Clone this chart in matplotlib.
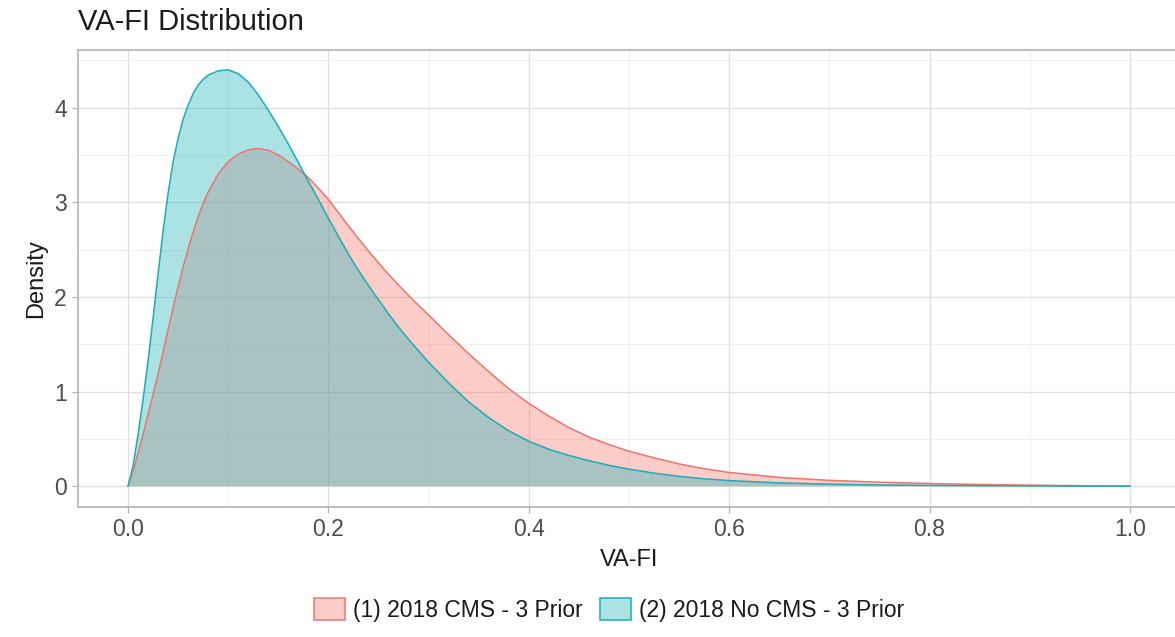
import matplotlib
matplotlib.use("Agg")
import matplotlib.pyplot as plt
from matplotlib.colors import to_rgba
from matplotlib.patches import Patch
from matplotlib.ticker import MultipleLocator

plt.rcParams['font.family'] = ['Liberation Sans', 'DejaVu Sans']

# VA-FI evaluation grid (finer where the curves rise steeply)
va_fi = [
    0.000, 0.005, 0.010, 0.015, 0.020, 0.025, 0.030, 0.035, 0.040, 0.045,
    0.050, 0.055, 0.060, 0.065, 0.070, 0.075, 0.080,
    0.09, 0.10, 0.11, 0.12, 0.13, 0.14, 0.15, 0.16, 0.17, 0.18, 0.19,
    0.20, 0.21, 0.22, 0.23, 0.24, 0.25, 0.26, 0.27, 0.28, 0.29, 0.30,
    0.32, 0.34, 0.36, 0.38, 0.40, 0.42, 0.44, 0.46, 0.48, 0.50,
    0.525, 0.55, 0.575, 0.60, 0.65, 0.70, 0.75, 0.80, 0.85, 0.90, 0.95, 1.00,
]

# (1) 2018 CMS - 3 Prior
density_cms = [
    0.00, 0.16, 0.35, 0.55, 0.76, 0.97, 1.19, 1.42, 1.66, 1.89,
    2.11, 2.32, 2.51, 2.69, 2.85, 2.99, 3.11,
    3.30, 3.43, 3.51, 3.555, 3.57, 3.55, 3.50, 3.43, 3.35, 3.26, 3.15,
    3.03, 2.89, 2.75, 2.615, 2.485, 2.36, 2.24, 2.125, 2.015, 1.91, 1.81,
    1.60, 1.40, 1.21, 1.03, 0.875, 0.74, 0.62, 0.52, 0.44, 0.37,
    0.30, 0.235, 0.185, 0.145, 0.093, 0.062, 0.042, 0.028, 0.018, 0.011, 0.005, 0.001,
]

# (2) 2018 No CMS - 3 Prior
density_nocms = [
    0.00, 0.22, 0.55, 0.92, 1.33, 1.78, 2.25, 2.70, 3.10, 3.43,
    3.68, 3.88, 4.03, 4.15, 4.24, 4.30, 4.345,
    4.39, 4.40, 4.36, 4.27, 4.135, 3.975, 3.80, 3.615, 3.42, 3.22, 3.03,
    2.83, 2.64, 2.45, 2.28, 2.12, 1.97, 1.82, 1.68, 1.55, 1.43, 1.31,
    1.09, 0.89, 0.725, 0.585, 0.475, 0.39, 0.325, 0.27, 0.22, 0.18,
    0.138, 0.104, 0.078, 0.059, 0.035, 0.021, 0.013, 0.008, 0.005, 0.003, 0.0015, 0.0005,
]

series_labels = ["(1) 2018 CMS - 3 Prior", "(2) 2018 No CMS - 3 Prior"]
fill_colors = ["#F8766D", "#1DB5BB"]
line_colors = ["#EC756D", "#1BADB3"]
fill_alpha = [0.37, 0.37]

W, H = 1175, 637
fig = plt.figure(figsize=(W / 100, H / 100), dpi=100)
fig.patch.set_facecolor("white")

# panel box in pixel coordinates (left, top, right, bottom)
pl, pt, pr, pb = 78, 50, 1180, 507
ax = fig.add_axes([pl / W, 1 - pb / H, (pr - pl) / W, (pb - pt) / H])

for dens, fc, lc, a in zip([density_cms, density_nocms], fill_colors, line_colors, fill_alpha):
    ax.fill_between(va_fi, dens, 0, facecolor=fc, alpha=a, lw=0, zorder=2)
    ax.plot(va_fi, dens, color=lc, lw=1.1, zorder=3, solid_joinstyle="round")

ax.set_xlim(-0.05, 1.05)
ax.set_ylim(-0.22, 4.61)

ax.xaxis.set_minor_locator(MultipleLocator(0.1))
ax.yaxis.set_minor_locator(MultipleLocator(0.5))
ax.set_xticks([0.0, 0.2, 0.4, 0.6, 0.8, 1.0])
ax.set_xticklabels(["0.0", "0.2", "0.4", "0.6", "0.8", "1.0"])
ax.set_yticks([0, 1, 2, 3, 4])
ax.set_yticklabels(["0", "1", "2", "3", "4"])

ax.grid(which="major", color="#DEDEDE", lw=0.9, zorder=0)
ax.grid(which="minor", color="#EDEDED", lw=0.6, zorder=0)
ax.set_axisbelow(True)

for sp in ax.spines.values():
    sp.set_color("#B3B3B3")
    sp.set_linewidth(1.2)

ax.tick_params(which="major", direction="out", length=4, width=0.9, color="#B3B3B3",
               labelcolor="#4D4D4D", labelsize=16.5, pad=4)
ax.tick_params(which="minor", length=0)

ax.set_xlabel("VA-FI", fontsize=17, color="#1A1A1A", labelpad=6)
ax.set_ylabel("Density", fontsize=17, color="#1A1A1A", labelpad=5)

fig.text(pl / W, 1 - 22 / H, "VA-FI Distribution", fontsize=21, color="#1A1A1A",
         ha="left", va="center")

handles = [Patch(facecolor=to_rgba(fc, a), edgecolor=lc, lw=1.1)
           for fc, lc, a in zip(fill_colors, line_colors, fill_alpha)]
fig.legend(handles, series_labels, loc="center", bbox_to_anchor=(609.5 / W, 1 - 610 / H),
           ncol=2, frameon=False, fontsize=16.5, handlelength=1.35, handleheight=1.1,
           handletextpad=0.35, columnspacing=0.75, labelcolor="#1A1A1A")

fig.savefig("out.png", dpi=100)
